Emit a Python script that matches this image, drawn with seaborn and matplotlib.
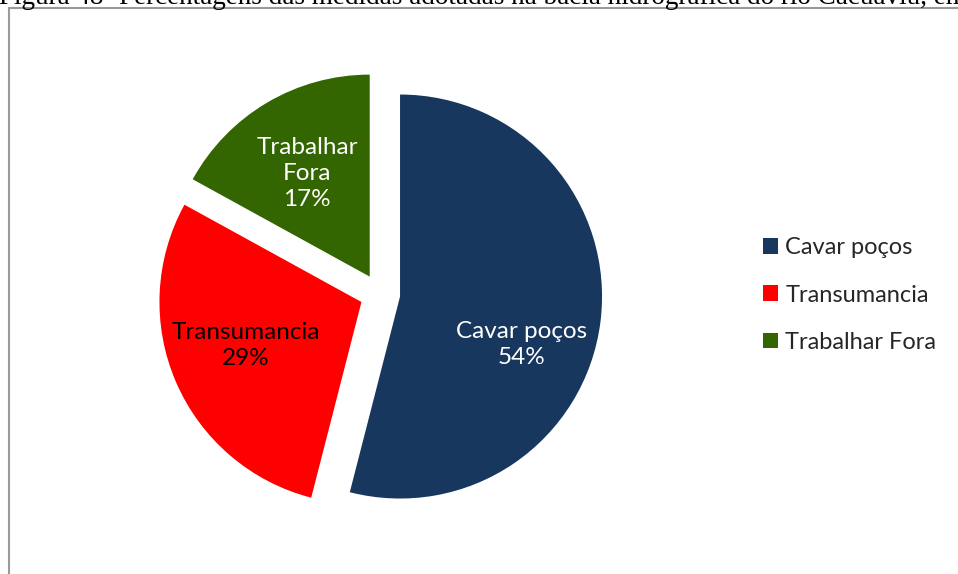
import matplotlib
matplotlib.use("Agg")
import matplotlib.pyplot as plt
import seaborn as sns
from matplotlib.patches import Rectangle

# Data
categories = ["Cavar poços", "Transumancia", "Trabalhar Fora"]
slice_labels = ["Cavar poços", "Transumancia", "Trabalhar\nFora"]
percentages = [54, 29, 17]
colors = ["#17375E", "#FF0000", "#336600"]
label_colors = ["white", "black", "white"]
caption = "Figura 48- Percentagens das medidas adotadas na bacia hidrográfica do rio Cacuaviu, em"

sns.set_theme(style="white")
plt.rcParams["font.family"] = ["Lato", "DejaVu Sans"]

W, H = 958, 574
fig = plt.figure(figsize=(W / 100, H / 100), dpi=100)
fig.patch.set_facecolor("white")

# Pie axes: centre at (380, 294) px, radius ~202 px
R_PX = 202.0
cx, cy = 380.0, 294.0
xr, yr = 1.5, 1.2
ax_w, ax_h = 2 * xr * R_PX, 2 * yr * R_PX
ax = fig.add_axes([(cx - ax_w / 2) / W, (H - cy - ax_h / 2) / H, ax_w / W, ax_h / H])

wedges, _ = ax.pie(
    percentages,
    colors=colors,
    startangle=90,
    counterclock=False,
    explode=[0.1] * len(percentages),
    radius=1.0,
    wedgeprops=dict(linewidth=0),
)
ax.set_xlim(-xr, xr)
ax.set_ylim(-yr, yr)
ax.set_aspect("auto")
ax.axis("off")

# In-slice labels (name + share)
label_pos = [(0.70, -0.25), (-0.665, -0.255), (-0.36, 0.595)]
for name, pct, pos, tc in zip(slice_labels, percentages, label_pos, label_colors):
    ax.text(pos[0], pos[1], f"{name}\n{pct}%", ha="center", va="center",
            color=tc, fontsize=17.5, linespacing=1.3)

# Legend
leg = fig.legend(
    wedges, categories,
    loc="center left",
    bbox_to_anchor=(763 / W, 1 - 295 / H),
    frameon=False,
    fontsize=17,
    handlelength=0.64,
    handleheight=0.64,
    handletextpad=0.3,
    labelspacing=1.12,
    borderpad=0,
    borderaxespad=0,
)

# Chart frame
fig.add_artist(Rectangle((9 / W, 0 - 0.05), 1.2, 1 - 8 / H + 0.05,
                         transform=fig.transFigure, fill=False,
                         edgecolor="#9a9a9a", linewidth=1.5))

# Caption above the frame
fig.text(-1 / W, 1 - 4 / H, caption, ha="left", va="baseline",
         fontsize=19.5, family=["Liberation Serif"], color="black")

fig.savefig("out.png", dpi=100, facecolor="white")
